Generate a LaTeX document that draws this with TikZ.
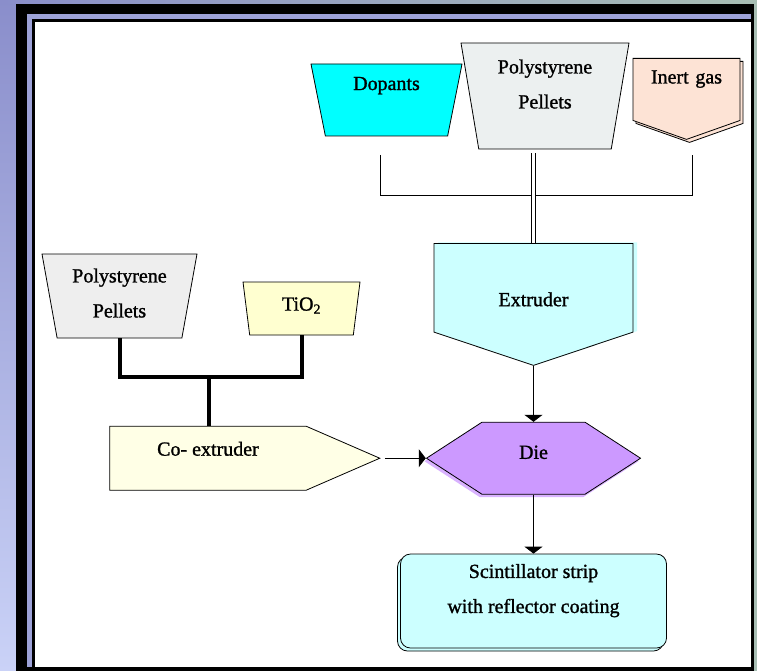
\documentclass[tikz,border=0pt]{standalone}
\usepackage{fontspec}
\setmainfont{Liberation Serif}
\newfontfamily\diagfont{Liberation Serif}[FakeBold=1.2]
\usetikzlibrary{arrows.meta,positioning,shapes.geometric,shapes.symbols,shadows}
\definecolor{dopantcyan}  {RGB}{  0,255,255}
\definecolor{pelletgrey}  {RGB}{236,240,240}
\definecolor{pelletgreyB} {RGB}{238,238,238}
\definecolor{gaspeach}    {RGB}{253,227,213}
\definecolor{tioyellow}   {RGB}{255,255,208}
\definecolor{coextyellow} {RGB}{255,255,230}
\definecolor{extrudercyan}{RGB}{204,255,255}
\definecolor{diepurple}   {RGB}{204,153,255}
\definecolor{frametop}    {RGB}{138,142,203}
\definecolor{framebottom} {RGB}{202,210,247}
\definecolor{framegreen}  {RGB}{168,190,180}

\begin{document}
\begin{tikzpicture}[x=1pt, y=-1pt,
    every node/.style={font=\diagfont\fontsize{20}{35}\selectfont, line width=0.8pt, align=center},
    hopper/.style={draw, trapezium, shape border rotate=180, trapezium stretches body, inner sep=2pt},
    pump/.style={draw, signal, inner sep=2pt},
    feed/.style={line width=0.8pt},
    thickfeed/.style={line width=4pt},
    arrow/.style={feed, -{Triangle[length=7pt, width=18pt]}}
]
    % frame
    \shade[top color=frametop, bottom color=framebottom] (0,0) rectangle (757,671);
    \shade[left color=frametop, middle color=framebottom, right color=framegreen] (0,0) rectangle (757,4);
    \fill[framegreen] (754,4) rectangle (757,671);
    \fill[black] (16,4) rectangle (754,671);
    \fill[frametop!70!framebottom] (27,14) rectangle (751,667);
    \fill[black] (32,19) rectangle (751,667);
    \fill[white] (35,22) rectangle (751,667);

    % main line
    \node[hopper, fill=dopantcyan, trapezium angle=74, minimum width=151pt, minimum height=72pt, text depth=33pt] (dopants) at (386.5,100) {Dopants};
    \node[hopper, fill=pelletgrey, trapezium angle=77, minimum width=168pt, minimum height=106pt, text depth=24pt] (pelletsA) at (545,96) {Polystyrene\\Pellets};
    \node[pump, fill=gaspeach, signal to=south, signal pointer angle=141, text width=103pt, minimum height=81pt, text depth=25pt, anchor=north,
        general shadow={shadow xshift=3pt, shadow yshift=-3pt, fill=gaspeach, draw=black, line width=0.8pt}] (gas) at (686.5,58) {Inert gas};
    \node[pump, fill=extrudercyan, signal to=south, signal pointer angle=143, text width=195pt, minimum height=122pt, text height=37pt, anchor=north,
        general shadow={shadow xshift=4pt, shadow yshift=1pt, fill=extrudercyan}] (extruder) at (533.5,243) {Extruder};
    \node[pump, fill=diepurple, signal to=east and west, signal pointer angle=66, minimum width=214pt, minimum height=72pt, text depth=12pt,
        general shadow={shadow xshift=-2pt, shadow yshift=-3pt, fill=diepurple!75!white}, below=56pt of extruder] (die) {Die};
    \node[draw, rectangle, rounded corners=10pt, fill=extrudercyan, minimum width=266pt, minimum height=94pt, text depth=25pt,
        general shadow={shadow xshift=-3pt, shadow yshift=-3pt, fill=extrudercyan, draw=black, line width=0.8pt}, below=59pt of die] (scint) {Scintillator strip\\with reflector coating};

    % side line
    \node[hopper, fill=pelletgreyB, trapezium angle=75.6, minimum width=155pt, minimum height=84pt, text depth=6pt] (pelletsB) at (119.5,296) {Polystyrene\\Pellets};
    \node[hopper, fill=tioyellow, trapezium angle=75.7, minimum width=117pt, minimum height=53pt, text depth=9pt] (tio) at (301.5,308.5) {TiO\textsubscript{2}};
    \node[pump, fill=coextyellow, signal to=east, signal pointer angle=47, minimum width=270pt, minimum height=64pt, text depth=19pt, left=45pt of die] (coext) {Co- extruder};

    \coordinate (dopfeed) at (380,155);
    \coordinate (gasfeed) at (692,155);
    \coordinate (cojoin) at (209,377);

    \draw[feed] (dopfeed) -- ++(0,40) -| (gasfeed);
    \draw[feed, double, double distance=2.5pt, shorten <=4pt] (extruder.north |- pelletsA.south) -- (extruder.north);
    \draw[arrow] (extruder.south) -- (die.north);
    \draw[arrow] (die.south) -- (scint.north);
    \draw[arrow, shorten <=4pt] (coext.east) -- (die.west);
    \draw[thickfeed] (pelletsB.south) |- (cojoin) -| (tio.south);
    \draw[thickfeed] (cojoin) -- (coext.north -| cojoin);
\end{tikzpicture}
\end{document}
